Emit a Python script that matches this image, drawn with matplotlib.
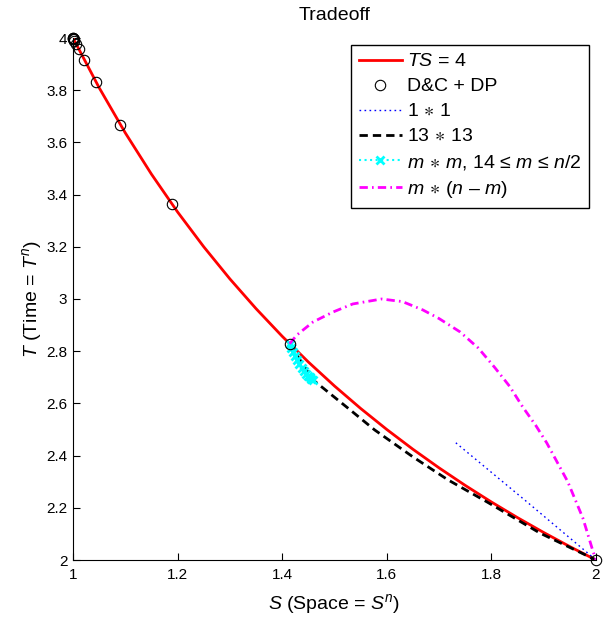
import matplotlib
matplotlib.use('Agg')
import matplotlib.pyplot as plt
from matplotlib.ticker import FormatStrFormatter

# 폰트 설정 (Helvetica 비슷한 Liberation Sans)
plt.rcParams['font.family'] = ['Liberation Sans', 'DejaVu Sans']
plt.rcParams['mathtext.fontset'] = 'custom'
plt.rcParams['mathtext.rm'] = 'Liberation Sans'
plt.rcParams['mathtext.it'] = 'Liberation Sans:italic'
plt.rcParams['mathtext.fallback'] = 'stixsans'

# TS = 4 곡선 (읽은 값)
curve_s = [1.00, 1.05, 1.10, 1.15, 1.20, 1.25, 1.30, 1.35, 1.40, 1.45, 1.50,
           1.55, 1.60, 1.65, 1.70, 1.75, 1.80, 1.85, 1.90, 1.95, 2.00]
curve_t = [4.0000, 3.8095, 3.6364, 3.4783, 3.3333, 3.2000, 3.0769, 2.9630, 2.8571, 2.7586, 2.6667,
           2.5806, 2.5000, 2.4242, 2.3529, 2.2857, 2.2222, 2.1622, 2.1053, 2.0513, 2.0000]

# D&C + DP 점
dc_s = [2.0, 1.4142, 1.1892, 1.0905, 1.0443, 1.0219, 1.0109, 1.0054, 1.0027, 1.0014, 1.0007, 1.0003, 1.0]
dc_t = [2.0, 2.8284, 3.3636, 3.6680, 3.8302, 3.9144, 3.9568, 3.9785, 3.9892, 3.9946, 3.9973, 3.9986, 4.0]

# 1*1
one_s = [1.732, 1.866, 2.0]
one_t = [2.449, 2.226, 2.0]

# 13*13
thirteen_s = [1.4142, 1.459, 1.530, 1.577, 1.650, 1.717, 1.792, 1.893, 2.0]
thirteen_t = [2.8284, 2.690, 2.575, 2.498, 2.395, 2.307, 2.222, 2.103, 2.0]

# m*m, 14 <= m <= n/2
mm_s = [1.4142, 1.417, 1.421, 1.425, 1.429, 1.433, 1.437, 1.441, 1.445, 1.449, 1.453, 1.456, 1.459]
mm_t = [2.8284, 2.812, 2.798, 2.781, 2.765, 2.751, 2.737, 2.725, 2.714, 2.705, 2.700, 2.695, 2.690]

# m*(n-m)
mn_s = [1.4142, 1.428, 1.459, 1.497, 1.535, 1.59, 1.63, 1.669, 1.70, 1.740, 1.775, 1.807, 1.835,
        1.860, 1.885, 1.906, 1.946, 1.975, 1.994, 2.0]
mn_t = [2.8284, 2.862, 2.912, 2.950, 2.981, 3.000, 2.990, 2.958, 2.925, 2.874, 2.812, 2.736, 2.665,
        2.586, 2.515, 2.448, 2.300, 2.160, 2.035, 2.0]

fig = plt.figure(figsize=(6.11, 6.17), dpi=100)
ax = fig.add_axes([73 / 611, 1 - 560 / 617, 523 / 611, 522 / 617])

ax.plot(curve_s, curve_t, color='red', lw=2, label=r'$TS$ = 4')
ax.plot(dc_s, dc_t, 'o', mec='black', mfc='none', ms=7.5, mew=0.8, clip_on=False, label='D&C + DP', zorder=5)
ax.plot(one_s, one_t, color='blue', lw=1, dashes=(1.2, 2.4), label=r'$1\,\ast\,1$')
ax.plot(thirteen_s, thirteen_t, color='black', lw=2, dashes=(3, 1.8), label=r'$13\,\ast\,13$')
ax.plot(mm_s, mm_t, color='cyan', lw=1.5, ls=':', marker='x', ms=6, mew=2,
        label='$m\\,\\ast\\,m$, 14 \u2264 $m$ \u2264 $n$/2')
ax.plot(mn_s, mn_t, color='magenta', lw=2, dashes=(3, 1.5, 0.6, 1.5), label='$m\\,\\ast\\,$($n$ \u2013 $m$)')

ax.set_xlim(1, 2)
ax.set_ylim(2, 4)
ax.set_xticks([1, 1.2, 1.4, 1.6, 1.8, 2])
ax.set_yticks([2, 2.2, 2.4, 2.6, 2.8, 3, 3.2, 3.4, 3.6, 3.8, 4])
ax.xaxis.set_major_formatter(FormatStrFormatter('%g'))
ax.yaxis.set_major_formatter(FormatStrFormatter('%g'))
ax.tick_params(direction='in', length=5, width=0.8, labelsize=11)
ax.tick_params(axis='x', pad=6)
ax.tick_params(axis='y', pad=4)
ax.spines['top'].set_visible(False)
ax.spines['right'].set_visible(False)

ax.set_xlabel(r'$S$ (Space = $S^n$)', fontsize=14, labelpad=7)
ax.set_ylabel(r'$T$ (Time = $T^n$)', fontsize=14, labelpad=2)
ax.set_title('Tradeoff', fontsize=14, pad=13)

leg = ax.legend(loc='upper right', bbox_to_anchor=(0.9866, 0.9866), borderaxespad=0,
                fontsize=14, fancybox=False, edgecolor='black', framealpha=1, numpoints=1,
                handlelength=2.2, handletextpad=0.25, borderpad=0.4, labelspacing=0.38)
leg.get_frame().set_linewidth(1)

plt.savefig('out.png', dpi=100)
